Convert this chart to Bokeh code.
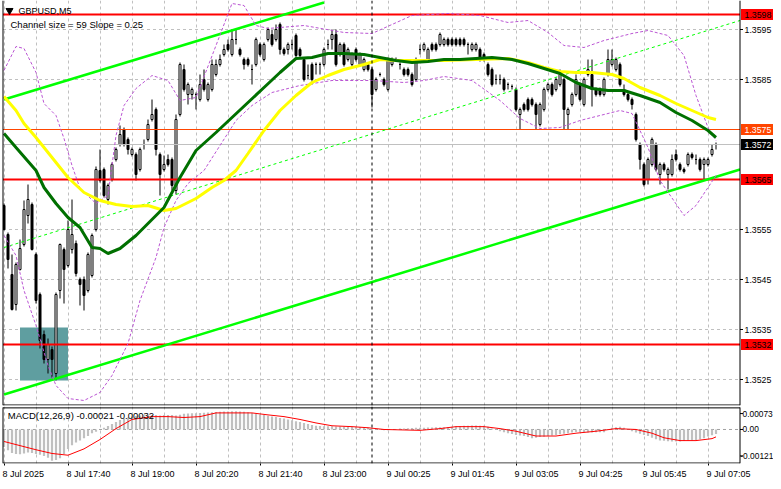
from bokeh.plotting import figure
from bokeh.models import Range1d, FixedTicker, Span, Grid, CustomJSTickFormatter, ColumnDataSource
from bokeh.core.properties import value
from bokeh.layouts import column
from bokeh.embed import file_html
from bokeh.resources import INLINE

FONT = "Liberation Sans"

# ---------------- data ----------------
symbol = "GBPUSD,M5"
channel_text = "Channel size = 59 Slope = 0.25"
macd_text = "MACD(12,26,9) -0.00021 -0.00032"

time_tick_bars = [0, 16, 32, 48, 64, 80, 96, 112, 128, 144, 160, 176]
time_tick_labels = ["8 Jul 2025", "8 Jul 17:40", "8 Jul 19:00", "8 Jul 20:20", "8 Jul 21:40",
                    "8 Jul 23:00", "9 Jul 00:25", "9 Jul 01:45", "9 Jul 03:05", "9 Jul 04:25",
                    "9 Jul 05:45", "9 Jul 07:05"]
day_separator_bar = 92
price_ticks = [1.3525, 1.3535, 1.3545, 1.3555, 1.3585, 1.3595]
price_tick_labels = ["1.3525", "1.3535", "1.3545", "1.3555", "1.3585", "1.3595"]
price_grid = [1.3525, 1.3535, 1.3545, 1.3555, 1.3565, 1.3575, 1.3585, 1.3595]
macd_ticks = [0.00073, 0.0, -0.00121]
macd_tick_labels = ["0.00073", "0.00", "-0.00121"]

opens = [1.35598,1.35540,1.35460,1.35400,1.35470,1.35520,1.35578,1.35600,1.35500,1.35420,
         1.35340,1.35290,1.35310,1.35262,1.35428,1.35510,1.35478,1.35510,1.35522,1.35450,
         1.35450,1.35428,1.35458,1.35550,1.35668,1.35670,1.35610,1.35650,1.35690,1.35720,
         1.35750,1.35730,1.35700,1.35700,1.35670,1.35720,1.35730,1.35770,1.35790,1.35700,
         1.35670,1.35690,1.35690,1.35628,1.35780,1.35870,1.35820,1.35820,1.35820,1.35810,
         1.35850,1.35810,1.35830,1.35860,1.35880,1.35900,1.35920,1.35900,1.35930,1.35910,
         1.35890,1.35890,1.35870,1.35880,1.35920,1.35890,1.35930,1.35940,1.35930,1.35960,
         1.35910,1.35910,1.35920,1.35938,1.35910,1.35890,1.35858,1.35880,1.35880,1.35880,
         1.35880,1.35920,1.35930,1.35940,1.35900,1.35920,1.35890,1.35880,1.35910,1.35880,
         1.35870,1.35880,1.35870,1.35830,1.35860,1.35850,1.35830,1.35880,1.35890,1.35880,
         1.35870,1.35870,1.35860,1.35850,1.35910,1.35910,1.35890,1.35920,1.35920,1.35920,
         1.35920,1.35930,1.35930,1.35930,1.35930,1.35930,1.35920,1.35910,1.35910,1.35910,
         1.35900,1.35880,1.35870,1.35850,1.35850,1.35850,1.35840,1.35836,1.35830,1.35780,
         1.35800,1.35810,1.35810,1.35800,1.35760,1.35790,1.35830,1.35840,1.35830,1.35840,
         1.35850,1.35780,1.35800,1.35820,1.35840,1.35800,1.35860,1.35860,1.35830,1.35830,
         1.35820,1.35860,1.35880,1.35870,1.35880,1.35830,1.35820,1.35810,1.35780,1.35720,
         1.35680,1.35650,1.35680,1.35720,1.35660,1.35680,1.35660,1.35660,1.35700,1.35680,
         1.35670,1.35680,1.35700,1.35690,1.35690,1.35680,1.35680,1.35700,1.35720]
highs = [1.35602,1.35544,1.35500,1.35484,1.35530,1.35608,1.35640,1.35604,1.35504,1.35424,
         1.35348,1.35332,1.35316,1.35424,1.35522,1.35514,1.35568,1.35610,1.35528,1.35454,
         1.35456,1.35504,1.35542,1.35676,1.35710,1.35674,1.35642,1.35684,1.35714,1.35758,
         1.35754,1.35734,1.35714,1.35704,1.35714,1.35730,1.35770,1.35810,1.35794,1.35704,
         1.35698,1.35700,1.35694,1.35780,1.35884,1.35880,1.35844,1.35834,1.35824,1.35860,
         1.35870,1.35844,1.35890,1.35890,1.35900,1.35920,1.35930,1.35950,1.35950,1.35914,
         1.35894,1.35894,1.35880,1.35934,1.35924,1.35924,1.35954,1.35950,1.35960,1.35964,
         1.35914,1.35924,1.35930,1.35942,1.35914,1.35894,1.35880,1.35884,1.35884,1.35884,
         1.35914,1.35930,1.35950,1.35950,1.35924,1.35924,1.35914,1.35904,1.35914,1.35904,
         1.35894,1.35884,1.35874,1.35854,1.35864,1.35854,1.35894,1.35894,1.35894,1.35884,
         1.35874,1.35874,1.35864,1.35894,1.35920,1.35924,1.35914,1.35924,1.35924,1.35944,
         1.35934,1.35934,1.35934,1.35934,1.35934,1.35934,1.35924,1.35924,1.35924,1.35914,
         1.35904,1.35884,1.35874,1.35860,1.35860,1.35854,1.35844,1.35840,1.35834,1.35794,
         1.35804,1.35814,1.35814,1.35804,1.35804,1.35834,1.35844,1.35844,1.35854,1.35870,
         1.35854,1.35794,1.35824,1.35860,1.35844,1.35854,1.35890,1.35890,1.35834,1.35834,
         1.35854,1.35910,1.35910,1.35894,1.35884,1.35840,1.35824,1.35814,1.35784,1.35724,
         1.35684,1.35694,1.35734,1.35724,1.35684,1.35684,1.35674,1.35700,1.35710,1.35684,
         1.35674,1.35704,1.35704,1.35700,1.35694,1.35694,1.35694,1.35720,1.35724]
lows = [1.35548,1.35472,1.35388,1.35388,1.35468,1.35516,1.35562,1.35508,1.35402,1.35312,
        1.35282,1.35262,1.35254,1.35248,1.35412,1.35402,1.35474,1.35502,1.35456,1.35398,
        1.35388,1.35424,1.35454,1.35546,1.35644,1.35614,1.35600,1.35646,1.35686,1.35716,
        1.35716,1.35700,1.35696,1.35648,1.35666,1.35710,1.35726,1.35766,1.35698,1.35618,
        1.35666,1.35676,1.35628,1.35620,1.35776,1.35826,1.35800,1.35810,1.35790,1.35806,
        1.35826,1.35806,1.35826,1.35856,1.35876,1.35896,1.35906,1.35896,1.35920,1.35896,
        1.35870,1.35876,1.35840,1.35876,1.35896,1.35886,1.35926,1.35916,1.35926,1.35900,
        1.35898,1.35900,1.35910,1.35894,1.35894,1.35846,1.35850,1.35840,1.35860,1.35860,
        1.35876,1.35910,1.35910,1.35876,1.35896,1.35876,1.35886,1.35876,1.35886,1.35876,
        1.35866,1.35866,1.35794,1.35826,1.35856,1.35836,1.35826,1.35876,1.35886,1.35870,
        1.35856,1.35856,1.35836,1.35846,1.35900,1.35906,1.35886,1.35906,1.35906,1.35916,
        1.35916,1.35916,1.35916,1.35916,1.35916,1.35916,1.35900,1.35906,1.35906,1.35886,
        1.35886,1.35856,1.35836,1.35840,1.35840,1.35826,1.35830,1.35830,1.35786,1.35750,
        1.35786,1.35786,1.35796,1.35750,1.35756,1.35786,1.35826,1.35816,1.35826,1.35836,
        1.35750,1.35750,1.35796,1.35816,1.35806,1.35796,1.35856,1.35796,1.35816,1.35816,
        1.35816,1.35856,1.35876,1.35866,1.35836,1.35816,1.35806,1.35790,1.35726,1.35670,
        1.35636,1.35640,1.35676,1.35666,1.35640,1.35666,1.35630,1.35656,1.35686,1.35666,
        1.35662,1.35676,1.35690,1.35680,1.35666,1.35650,1.35676,1.35696,1.35710]
closes = [1.35550,1.35490,1.35390,1.35480,1.35512,1.35590,1.35610,1.35510,1.35408,1.35328,
          1.35290,1.35320,1.35290,1.35420,1.35520,1.35470,1.35550,1.35540,1.35462,1.35440,
          1.35418,1.35500,1.35538,1.35670,1.35648,1.35618,1.35638,1.35680,1.35710,1.35740,
          1.35720,1.35710,1.35710,1.35660,1.35710,1.35720,1.35760,1.35780,1.35710,1.35660,
          1.35680,1.35680,1.35638,1.35770,1.35880,1.35830,1.35840,1.35830,1.35820,1.35840,
          1.35830,1.35840,1.35880,1.35880,1.35890,1.35910,1.35910,1.35930,1.35930,1.35900,
          1.35880,1.35880,1.35870,1.35930,1.35900,1.35920,1.35950,1.35920,1.35950,1.35910,
          1.35902,1.35920,1.35920,1.35898,1.35898,1.35850,1.35858,1.35850,1.35880,1.35880,
          1.35910,1.35920,1.35940,1.35880,1.35920,1.35880,1.35910,1.35900,1.35890,1.35900,
          1.35890,1.35870,1.35820,1.35850,1.35860,1.35840,1.35890,1.35890,1.35890,1.35880,
          1.35860,1.35860,1.35840,1.35890,1.35910,1.35920,1.35910,1.35910,1.35910,1.35940,
          1.35930,1.35920,1.35920,1.35920,1.35920,1.35920,1.35920,1.35920,1.35920,1.35890,
          1.35890,1.35860,1.35840,1.35850,1.35850,1.35830,1.35840,1.35836,1.35790,1.35790,
          1.35790,1.35790,1.35800,1.35780,1.35800,1.35830,1.35840,1.35820,1.35850,1.35860,
          1.35790,1.35790,1.35820,1.35850,1.35810,1.35850,1.35870,1.35830,1.35820,1.35820,
          1.35850,1.35890,1.35890,1.35890,1.35840,1.35820,1.35810,1.35800,1.35730,1.35690,
          1.35640,1.35690,1.35730,1.35670,1.35680,1.35670,1.35670,1.35690,1.35690,1.35670,
          1.35666,1.35700,1.35694,1.35690,1.35670,1.35690,1.35690,1.35710,1.35720]

ma_fast_bars = [0,3,8,10,13,16,19,22,24,26,29,33,36,40,44,48,53,57,61,65,69,73,77,81,85,90,94,
                98,102,106,110,114,118,122,127,131,135,139,143,147,151,155,159,164,168,172,176,178]
ma_fast = [1.35742,1.35714,1.35668,1.35634,1.35602,1.35574,1.35554,1.35514,1.35512,1.35502,
           1.35512,1.35538,1.35562,1.35594,1.35654,1.35708,1.35744,1.35774,1.35804,1.35834,
           1.35864,1.35892,1.35894,1.35902,1.35902,1.35900,1.35894,1.35888,1.35884,1.35886,
           1.35890,1.35890,1.35892,1.35894,1.35890,1.35882,1.35872,1.35862,1.35844,1.35832,
           1.35828,1.35828,1.35818,1.35804,1.35784,1.35768,1.35748,1.35734]
ma_slow_bars = [0,3,5,8,12,16,20,24,28,32,36,40,43,48,52,55,58,61,65,69,73,77,81,85,90,94,98,
                110,126,131,135,139,143,147,152,155,159,164,168,172,176,178]
ma_slow = [1.35816,1.35788,1.35762,1.35734,1.35694,1.35654,1.35624,1.35608,1.35600,1.35596,
           1.35598,1.35588,1.35592,1.35612,1.35634,1.35648,1.35668,1.35702,1.35748,1.35788,
           1.35818,1.35844,1.35858,1.35870,1.35880,1.35890,1.35888,1.35888,1.35892,1.35884,
           1.35874,1.35866,1.35864,1.35864,1.35860,1.35852,1.35834,1.35818,1.35802,1.35788,
           1.35774,1.35770]
bb_upper_bars = [0,3,5,8,10,13,15,17,19,23,26,28,30,33,37,41,44,48,53,57,60,63,66,75,85,92,102,
                 111,119,126,131,136,140,145,150,157,161,166,170,173,176,178]
bb_upper = [1.35868,1.35916,1.35912,1.35864,1.35802,1.35778,1.35732,1.35678,1.35632,1.35602,
            1.35618,1.35738,1.35798,1.35832,1.35858,1.35848,1.35808,1.35814,1.35918,1.36002,
            1.35998,1.35958,1.35952,1.35958,1.35944,1.35942,1.35978,1.35982,1.35978,1.35964,
            1.35968,1.35944,1.35918,1.35914,1.35928,1.35942,1.35948,1.35938,1.35898,1.35818,
            1.35754,1.35728]
bb_lower_bars = [0,3,5,8,11,13,16,20,24,27,31,34,38,40,43,46,50,54,58,62,67,74,82,92,100,105,
                 110,117,124,129,134,139,144,149,154,157,161,164,170,173,176,178]
bb_lower = [1.35538,1.35498,1.35428,1.35358,1.35278,1.35238,1.35212,1.35208,1.35224,1.35258,
            1.35322,1.35408,1.35494,1.35554,1.35608,1.35642,1.35668,1.35718,1.35768,1.35798,
            1.35824,1.35838,1.35848,1.35848,1.35844,1.35848,1.35856,1.35848,1.35808,1.35772,
            1.35752,1.35754,1.35768,1.35778,1.35788,1.35782,1.35714,1.35648,1.35578,1.35598,
            1.35634,1.35658]

channel_upper_bars = [0, 80]
channel_upper = [1.35810, 1.36004]
channel_mid_bars = [0, 184]
channel_mid = [1.35514, 1.35968]
channel_lower_bars = [0, 184]
channel_lower = [1.35220, 1.35670]

level_prices = [1.3598, 1.3575, 1.3572, 1.3565, 1.3532]
level_texts = ["1.3598", "1.3575", "1.3572", "1.3565", "1.3532"]
level_colors = ["#FF0000", "#FF4500", "#C0C0C0", "#FF0000", "#FF0000"]
level_widths = [2, 1, 1, 2, 2]
level_box_colors = ["#FF0000", "#FF4500", "#000000", "#FF0000", "#FF0000"]
level_text_colors = ["#000000", "#FFFFFF", "#FFFFFF", "#000000", "#000000"]

zone_left, zone_right = 4, 16
zone_top, zone_bottom = 1.35354, 1.35248

macd_main_e5 = [-80,-95,-108,-112,-114,-110,-106,-108,-112,-116,
                -122,-130,-143,-140,-132,-112,-90,-72,-60,-50,
                -40,-30,-17,-10,0,8,16,25,34,44,
                50,55,59,62,64,65,66,67,66,64,
                66,67,66,64,68,72,73,74,75,76,
                77,78,79,80,81,82,83,84,84,83,
                81,79,76,72,69,66,63,60,57,53,
                50,46,42,38,34,30,25,21,17,16,
                15,15,15,14,14,13,13,13,12,11,
                10,8,6,2,-2,-4,-3,0,2,4,
                5,6,7,8,8,8,9,9,10,10,
                10,11,12,14,16,17,17,18,18,17,
                17,12,4,-2,-8,-13,-17,-21,-25,-28,
                -30,-35,-40,-38,-35,-33,-30,-28,-25,-22,
                -20,-17,-14,-12,-12,-13,-14,-14,-13,-13,
                -13,-2,8,10,12,8,0,-8,-14,-20,
                -25,-30,-38,-45,-50,-52,-54,-55,-55,-55,
                -53,-51,-50,-48,-45,-40,-32,-26,-21]
macd_signal_bars = [0,8,12,16,20,24,28,32,37,41,45,49,53,57,62,66,70,74,78,82,87,91,95,104,109,
                    113,120,124,128,133,138,143,148,153,158,162,165,169,173,177,178]
macd_signal_e5 = [-55,-93,-110,-118,-89,-46,4,46,59,59,55,59,76,76,76,67,59,46,30,17,
                  13,8,0,-4,4,13,13,4,-8,-30,-30,-17,-8,4,0,-17,-38,-51,-51,-42,-34]

# ---------------- screen geometry ----------------
W = 773
PX_PER_BAR = 4.0
BAR0_PX = 3.5                         # pixel centre of bar 0
X0 = -BAR0_PX / PX_PER_BAR
X1 = X0 + W / PX_PER_BAR
X_AXIS = 184.0                        # price-scale line (pixel 739.5)
X_LEFT = X0 + 2.5 / PX_PER_BAR        # chart left border (pixel 2.5)
MAIN_H, MAIN_FRAME = 406, 405
MACD_H, MACD_FRAME = 75, 62
PX_PER_PRICE = 50000.0
Y1 = 1.36008
Y0 = Y1 - MAIN_FRAME / PX_PER_PRICE
PX_PER_MACD = 23711.0
M1 = 25 / PX_PER_MACD                  # MACD zero sits 25 px below the panel top
M0 = M1 - MACD_FRAME / PX_PER_MACD
dx = lambda px: px / PX_PER_BAR
dy = lambda px: px / PX_PER_PRICE
dm = lambda px: px / PX_PER_MACD
GRID_BARS = list(range(0, 184, 8))


def txt(size):
    return dict(text_font=value(FONT), text_font_size=value(size), text_baseline="middle",
                text_align="left")


# ---------------- main price panel ----------------
bars = list(range(len(opens)))
up = [c >= o for o, c in zip(opens, closes)]
src = ColumnDataSource(dict(
    x=bars, top=[max(o, c) for o, c in zip(opens, closes)],
    bottom=[min(o, c) for o, c in zip(opens, closes)],
    high=highs, low=lows,
    fill=["#FFFFFF" if u else "#000000" for u in up]))

p = figure(width=W, height=MAIN_H, x_range=Range1d(X0, X1), y_range=Range1d(Y0, Y1),
           output_backend="svg", toolbar_location=None, x_axis_location=None,
           y_axis_location=None, min_border_left=0, min_border_right=0,
           min_border_top=0, min_border_bottom=MAIN_H - MAIN_FRAME)
p.outline_line_color = None
p.background_fill_color = "white"
p.border_fill_color = "white"
p.grid.visible = False
p.add_layout(Grid(dimension=0, ticker=FixedTicker(ticks=GRID_BARS), grid_line_color="#C0C0C0",
                  grid_line_dash="3 3"))
p.segment(x0=X_LEFT, x1=X_AXIS, y0=price_grid, y1=price_grid, line_color="#C0C0C0",
          line_dash="3 3", line_width=1)

p.quad(left=[zone_left], right=[zone_right], top=[zone_top], bottom=[zone_bottom],
       fill_color="#5F9EA0", line_color=None)
p.add_layout(Span(location=day_separator_bar, dimension="height", line_color="black",
                  line_dash="3 3", line_width=1))

p.segment(x0="x", x1="x", y0="low", y1="high", source=src, line_color="black", line_width=1)
p.vbar(x="x", top="top", bottom="bottom", width=0.5, source=src, fill_color="fill",
       line_color="black", line_width=1)

p.segment(x0=X_LEFT, x1=X_AXIS, y0=level_prices, y1=level_prices, line_color=level_colors,
          line_width=level_widths)

p.line(channel_upper_bars, channel_upper, line_color="#00FF00", line_width=2.5)
p.line(channel_lower_bars, channel_lower, line_color="#00FF00", line_width=2.5)
p.line(channel_mid_bars, channel_mid, line_color="#00FF00", line_width=1, line_dash="3 3")

p.line(bb_upper_bars, bb_upper, line_color="#BA55D3", line_width=1, line_dash="3 2")
p.line(bb_lower_bars, bb_lower, line_color="#BA55D3", line_width=1, line_dash="3 2")

p.line(ma_slow_bars, ma_slow, line_color="#FFFF00", line_width=3)
p.line(ma_fast_bars, ma_fast, line_color="#007000", line_width=3)

# chart border and price scale (drawn by hand so the labels can sit right of the chart)
p.quad(left=[X0], right=[X_LEFT], top=[Y1], bottom=[Y0], fill_color="white", line_color=None)
p.quad(left=[X_AXIS], right=[X1], top=[Y1], bottom=[Y0], fill_color="white", line_color=None)
p.line([X_LEFT, X_AXIS], [Y0 + dy(0.5)] * 2, line_color="black", line_width=1)
p.line([X_LEFT] * 2, [Y0, Y1], line_color="black", line_width=1)
p.line([X_AXIS] * 2, [Y0, Y1], line_color="black", line_width=1)
p.segment(x0=X_AXIS, x1=X_AXIS + dx(3), y0=price_ticks, y1=price_ticks, line_color="black")
p.text(x=X_AXIS + dx(4.5), y=price_ticks, text=price_tick_labels, text_color="black",
       **txt("8.8px"))

p.quad(left=X_AXIS + dx(1), right=X1, top=[v + dy(5.5) for v in level_prices],
       bottom=[v - dy(5.5) for v in level_prices], fill_color=level_box_colors,
       line_color=None)
p.text(x=X_AXIS + dx(4.5), y=level_prices, text=level_texts, text_color=level_text_colors,
       **txt("8.8px"))

p.scatter([X0 + dx(9)], [Y1 - dy(10)], marker="inverted_triangle", size=7, color="black")
p.text(x=[X0 + dx(18)], y=[Y1 - dy(10)], text=[symbol], text_color="black", **txt("9px"))
p.text(x=[X0 + dx(10)], y=[Y1 - dy(24)], text=[channel_text], text_color="black",
       **txt("9.5px"))

# ---------------- MACD panel ----------------
label_widths = [41.5] + [44.0] * 11
label_ticks = [b + (w / 2 - 1.5) / PX_PER_BAR for b, w in zip(time_tick_bars, label_widths)]

m = figure(width=W, height=MACD_H, x_range=p.x_range, y_range=Range1d(M0, M1),
           output_backend="svg", toolbar_location=None, x_axis_location="below",
           y_axis_location=None, min_border_left=0, min_border_right=0,
           min_border_top=0, min_border_bottom=MACD_H - MACD_FRAME)
m.outline_line_color = None
m.background_fill_color = "white"
m.border_fill_color = "white"
m.grid.visible = False
m.add_layout(Grid(dimension=0, ticker=FixedTicker(ticks=GRID_BARS), grid_line_color="#C0C0C0",
                  grid_line_dash="3 3"))
m.xaxis.ticker = FixedTicker(ticks=label_ticks, minor_ticks=time_tick_bars)
m.xaxis.formatter = CustomJSTickFormatter(
    args=dict(labels=time_tick_labels),
    code="return labels[Math.round((tick - 5) / 16)];")
m.xaxis.major_tick_out = 0
m.xaxis.major_tick_in = 0
m.xaxis.minor_tick_out = 2
m.xaxis.minor_tick_in = 0
m.xaxis.minor_tick_line_color = "black"
m.xaxis.axis_line_color = None
m.xaxis.major_label_standoff = 3
m.xaxis.major_label_text_font = FONT
m.xaxis.major_label_text_font_size = "9px"
m.xaxis.major_label_text_color = "black"

m.segment(x0=X_LEFT, x1=X_AXIS, y0=0, y1=0, line_color="#A0A0A0", line_dash="3 3")
m.add_layout(Span(location=day_separator_bar, dimension="height", line_color="black",
                  line_dash="3 3", line_width=1))
m.vbar(x=bars, top=[v / 1e5 for v in macd_main_e5], bottom=0, width=0.55,
       fill_color="#C0C0C0", line_color=None)
m.line(macd_signal_bars, [v / 1e5 for v in macd_signal_e5], line_color="#FF0000", line_width=1)

m.quad(left=[X0], right=[X_LEFT], top=[M1], bottom=[M0], fill_color="white", line_color=None)
m.quad(left=[X_AXIS], right=[X1], top=[M1], bottom=[M0], fill_color="white", line_color=None)
m.line([X_LEFT, X_AXIS], [M1 - dm(1.5)] * 2, line_color="black", line_width=1)
m.line([X_LEFT, X_AXIS], [M0 + dm(0.5)] * 2, line_color="black", line_width=1)
m.line([X_LEFT] * 2, [M0, M1 - dm(1)], line_color="black", line_width=1)
m.line([X_AXIS] * 2, [M0, M1 - dm(1)], line_color="black", line_width=1)
m.segment(x0=X_AXIS, x1=X_AXIS + dx(3), y0=macd_ticks, y1=macd_ticks, line_color="black")
m.text(x=[X_AXIS + dx(2.5), X_AXIS + dx(2.5), X_AXIS + dx(0.3)], y=macd_ticks,
       text=macd_tick_labels, text_color="black", **txt("8.4px"))
m.text(x=[X0 + dx(7.3)], y=[dm(431 - 415.7)], text=[macd_text], text_color="black",
       **txt("9.5px"))

layout = column(p, m, spacing=0)
open("out.html", "w").write(file_html(layout, INLINE))
